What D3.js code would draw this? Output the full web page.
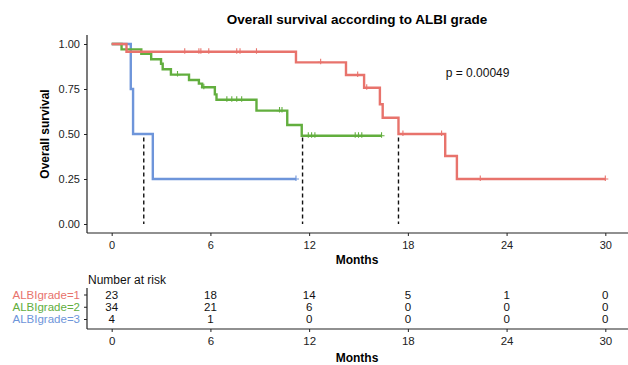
<!DOCTYPE html>
<html lang="en">
<head>
    <meta charset="UTF-8">
    <title>Overall survival according to ALBI grade</title>
    <script src="https://cdnjs.cloudflare.com/ajax/libs/d3/7.8.5/d3.min.js"></script>
    <style>
        body { margin: 0; background: white; }
        svg { display: block; font-family: "Liberation Sans", Arial, sans-serif; }
        .tick text { font-size: 11px; fill: #222; }
        .domain, .tick line { stroke: #222; }
    </style>
</head>
<body>
<div id="chart"></div>
<script>
    // km curves
    const groups = ['ALBIgrade=1', 'ALBIgrade=2', 'ALBIgrade=3'];
    const colors = ['#E8736C', '#62AE3E', '#6E95DA'];

    const g1Times = [0, 0.9, 11.2, 14.24, 15.34, 16.3, 16.47, 17.43, 20.27, 20.98, 30.0];
    const g1Surv = [1, 0.957, 0.898, 0.828, 0.757, 0.665, 0.59, 0.5, 0.378, 0.25, 0.25];
    const g1Censor = [4.44, 5.3, 5.42, 5.9, 7.6, 7.8, 8.8, 12.7, 14.95, 15.5, 17.7, 20.05, 22.4, 30.0];

    const g2Times = [0, 0.6, 1.8, 2.4, 3.0, 3.1, 3.6, 4.7, 5.3, 5.5, 6.27, 6.37, 8.8, 10.67, 11.55, 16.4];
    const g2Surv = [1, 0.97, 0.945, 0.915, 0.89, 0.86, 0.83, 0.8, 0.78, 0.76, 0.72, 0.69, 0.63, 0.55, 0.49, 0.49];
    const g2Censor = [4.0, 5.6, 7.0, 7.3, 7.6, 7.9, 10.2, 10.35, 11.95, 12.15, 12.35, 14.8, 15.0, 15.2, 16.4];

    const g3Times = [0, 1.16, 1.3, 2.5, 11.2];
    const g3Surv = [1, 0.75, 0.5, 0.25, 0.25];
    const g3Censor = [11.2];

    const medianTimes = [17.43, 11.6, 1.95];

    const riskMonths = [0, 6, 12, 18, 24, 30];
    const risk1 = [23, 18, 14, 5, 1, 0];
    const risk2 = [34, 21, 6, 0, 0, 0];
    const risk3 = [4, 1, 0, 0, 0, 0];

    const yTicks = [0, 0.25, 0.5, 0.75, 1];
    const pText = 'p = 0.00049';

    const series = [
        {times: g1Times, surv: g1Surv, censor: g1Censor, risk: risk1},
        {times: g2Times, surv: g2Surv, censor: g2Censor, risk: risk2},
        {times: g3Times, surv: g3Surv, censor: g3Censor, risk: risk3}
    ];

    const width = 628, height = 365;
    const svg = d3.select('#chart').append('svg').attr('width', width).attr('height', height);

    const x = d3.scaleLinear().domain([-1.5, 31.5]).range([87, 630]);
    const y = d3.scaleLinear().domain([-0.05, 1.05]).range([233, 35]);

    // step lookup for censor marks
    const survAt = (s, t) => {
        let v = s.surv[0];
        s.times.forEach((tt, i) => { if (tt <= t) v = s.surv[i]; });
        return v;
    };

    svg.append('text')
        .attr('x', 357).attr('y', 24)
        .attr('text-anchor', 'middle')
        .attr('font-size', 13.5).attr('font-weight', 'bold')
        .text('Overall survival according to ALBI grade');

    // median lines
    svg.append('g').selectAll('line').data(medianTimes).join('line')
        .attr('x1', d => x(d)).attr('x2', d => x(d))
        .attr('y1', y(0.48)).attr('y2', y(0))
        .attr('stroke', '#111').attr('stroke-width', 1.4)
        .attr('stroke-dasharray', '4,3');

    const line = d3.line().curve(d3.curveStepAfter).x(d => x(d[0])).y(d => y(d[1]));

    // draw order: blue, green, red (red on top)
    [2, 1, 0].forEach(i => {
        const s = series[i];
        svg.append('path')
            .datum(s.times.map((t, j) => [t, s.surv[j]]))
            .attr('d', line)
            .attr('fill', 'none')
            .attr('stroke', colors[i])
            .attr('stroke-width', 2.4);
        svg.append('g').selectAll('path').data(s.censor).join('path')
            .attr('d', d => {
                const cx = x(d), cy = y(survAt(s, d));
                return `M${cx - 3},${cy}H${cx + 3}M${cx},${cy - 3.5}V${cy + 2}`;
            })
            .attr('stroke', colors[i])
            .attr('stroke-width', 1.1)
            .attr('fill', 'none');
    });

    svg.append('text')
        .attr('x', x(20.3)).attr('y', y(0.84) + 4)
        .attr('font-size', 12).attr('fill', '#111')
        .text(pText);

    // axes of the plot
    const xAxis = d3.axisBottom(x).tickValues(riskMonths).tickSize(3).tickPadding(5);
    svg.append('g').attr('transform', 'translate(0,233)').call(xAxis)
        .call(g => g.select('.domain').attr('stroke-width', 1.2).attr('d', 'M87,0H628'));

    const yAxis = d3.axisLeft(y).tickValues(yTicks).tickFormat(d3.format('.2f')).tickSize(3).tickPadding(4);
    svg.append('g').attr('transform', 'translate(87,0)').call(yAxis)
        .call(g => g.select('.domain').attr('stroke-width', 1.2).attr('d', 'M0,35V233'));

    svg.append('text')
        .attr('x', 357).attr('y', 264)
        .attr('text-anchor', 'middle')
        .attr('font-size', 12).attr('font-weight', 'bold')
        .text('Months');

    svg.append('text')
        .attr('transform', 'translate(49,134) rotate(-90)')
        .attr('text-anchor', 'middle')
        .attr('font-size', 12).attr('font-weight', 'bold')
        .text('Overall survival');

    // risk table
    const rowY = d3.scalePoint().domain(groups).range([294.5, 319]);

    svg.append('text')
        .attr('x', 88).attr('y', 284)
        .attr('font-size', 12).attr('fill', '#111')
        .text('Number at risk');

    series.forEach((s, i) => {
        svg.append('g').selectAll('text').data(s.risk).join('text')
            .attr('x', (_, j) => x(riskMonths[j]))
            .attr('y', rowY(groups[i]) + 4)
            .attr('text-anchor', 'middle')
            .attr('font-size', 11.5).attr('fill', '#111')
            .text(d => d);
    });

    const rowAxis = d3.axisLeft(rowY).tickSize(3).tickPadding(4);
    svg.append('g').attr('transform', 'translate(87,0)').call(rowAxis)
        .call(g => g.select('.domain').attr('stroke-width', 1.2).attr('d', 'M0,288V329'))
        .call(g => g.selectAll('.tick text').style('font-size', '11.5px')
            .style('fill', (d, i) => colors[i]));

    svg.append('g').attr('transform', 'translate(0,329)').call(xAxis)
        .call(g => g.select('.domain').attr('stroke-width', 1.2).attr('d', 'M87,0H628'))
        .call(g => g.selectAll('.tick text').style('font-size', '11.5px'));

    svg.append('text')
        .attr('x', 357).attr('y', 362)
        .attr('text-anchor', 'middle')
        .attr('font-size', 12).attr('font-weight', 'bold')
        .text('Months');
</script>
</body>
</html>
